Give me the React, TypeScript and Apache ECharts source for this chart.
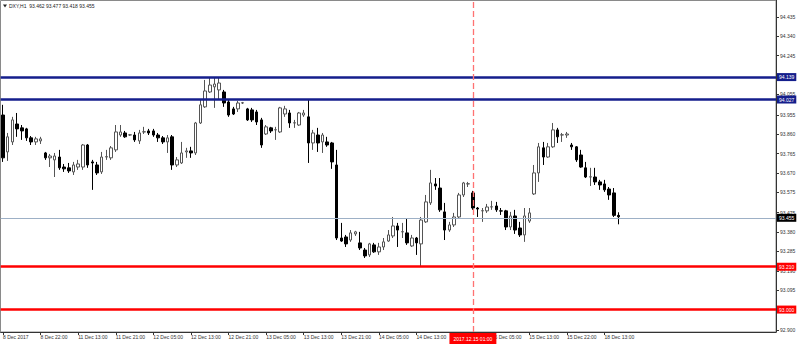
import React, { useEffect, useRef } from "react";
import * as echarts from "echarts";

// ---- data ----
const xTickLabels = [
  "8 Dec 2017", "8 Dec 22:00", "11 Dec 13:00", "11 Dec 21:00", "12 Dec 05:00",
  "12 Dec 13:00", "12 Dec 21:00", "13 Dec 05:00", "13 Dec 13:00", "13 Dec 21:00",
  "14 Dec 05:00", "14 Dec 13:00", "14 Dec 21:00", "15 Dec 05:00", "15 Dec 13:00",
  "15 Dec 22:00", "18 Dec 13:00",
];
// tick labels that the reference hides under its price / time boxes
const hiddenXLabels = ["14 Dec 21:00"];
const barsPerTick = 8;
const totalSlots = 165;

const yTickLabels = [
  "94.435", "94.340", "94.245", "94.150", "94.055", "93.955", "93.860", "93.765",
  "93.670", "93.575", "93.475", "93.380", "93.285", "93.190", "93.095", "93.000", "92.900",
];
const hiddenYLabels = ["94.150", "93.000"];

const opens = [
  93.954, 93.773, 93.822, 93.910, 93.891, 93.886, 93.842, 93.822, 93.827, 93.768,
  93.744, 93.734, 93.748, 93.699, 93.695, 93.675, 93.699, 93.699, 93.807, 93.724,
  93.709, 93.675, 93.748, 93.744, 93.783, 93.856, 93.866, 93.856, 93.856, 93.827,
  93.871, 93.876, 93.876, 93.856, 93.842, 93.822, 93.847, 93.709, 93.719, 93.773,
  93.778, 93.768, 93.915, 93.994, 94.067, 94.092, 94.077, 94.067, 94.018, 93.984,
  93.984, 94.013, 93.984, 93.979, 93.969, 93.930, 93.861, 93.891, 93.881, 93.871,
  93.959, 93.964, 93.915, 93.905, 93.954, 93.945, 93.817, 93.856, 93.822, 93.822,
  93.817, 93.709, 93.351, 93.356, 93.341, 93.371, 93.327, 93.292, 93.268, 93.317,
  93.283, 93.307, 93.336, 93.361, 93.410, 93.381, 93.376, 93.312, 93.351, 93.322,
  93.430, 93.523, 93.616, 93.596, 93.479, 93.390, 93.415, 93.454, 93.562, 93.616,
  93.572, 93.498, 93.484, 93.484, 93.503, 93.508, 93.484, 93.484, 93.405, 93.459,
  93.400, 93.366, 93.434, 93.567, 93.670, 93.793, 93.748, 93.798, 93.881, 93.856,
  93.856, 93.807, 93.798, 93.758, 93.695, 93.650, 93.650, 93.626, 93.616, 93.591,
  93.572, 93.462,
];
const closes = [
  93.744, 93.847, 93.930, 93.886, 93.876, 93.842, 93.822, 93.837, 93.837, 93.744,
  93.753, 93.753, 93.695, 93.690, 93.680, 93.709, 93.714, 93.807, 93.709, 93.719,
  93.670, 93.748, 93.750, 93.793, 93.871, 93.871, 93.847, 93.857, 93.832, 93.866,
  93.872, 93.866, 93.856, 93.842, 93.822, 93.842, 93.709, 93.734, 93.768, 93.778,
  93.768, 93.915, 94.004, 94.072, 94.101, 94.106, 94.111, 94.013, 93.954, 93.959,
  94.013, 94.014, 93.930, 93.930, 93.920, 93.807, 93.896, 93.876, 93.882, 93.989,
  93.984, 93.915, 93.916, 93.964, 93.964, 93.817, 93.866, 93.817, 93.856, 93.807,
  93.724, 93.351, 93.336, 93.322, 93.376, 93.381, 93.302, 93.263, 93.322, 93.283,
  93.307, 93.332, 93.366, 93.410, 93.390, 93.382, 93.327, 93.351, 93.327, 93.439,
  93.528, 93.621, 93.606, 93.489, 93.390, 93.415, 93.454, 93.562, 93.621, 93.617,
  93.498, 93.493, 93.485, 93.503, 93.504, 93.489, 93.483, 93.405, 93.459, 93.390,
  93.366, 93.459, 93.474, 93.670, 93.798, 93.748, 93.798, 93.881, 93.847, 93.857,
  93.861, 93.798, 93.734, 93.699, 93.650, 93.651, 93.626, 93.611, 93.587, 93.562,
  93.462, 93.455,
];
const lows = [
  93.724, 93.729, 93.807, 93.847, 93.832, 93.827, 93.807, 93.807, 93.812, 93.734,
  93.699, 93.650, 93.685, 93.675, 93.670, 93.660, 93.685, 93.685, 93.695, 93.587,
  93.660, 93.665, 93.734, 93.734, 93.773, 93.847, 93.842, 93.851, 93.822, 93.812,
  93.861, 93.856, 93.847, 93.822, 93.812, 93.768, 93.685, 93.699, 93.714, 93.744,
  93.744, 93.758, 93.910, 93.989, 94.062, 93.989, 94.028, 93.994, 93.945, 93.954,
  93.969, 94.008, 93.925, 93.920, 93.905, 93.793, 93.856, 93.866, 93.832, 93.866,
  93.945, 93.891, 93.891, 93.901, 93.945, 93.719, 93.783, 93.773, 93.768, 93.798,
  93.690, 93.341, 93.332, 93.307, 93.332, 93.361, 93.292, 93.253, 93.258, 93.278,
  93.268, 93.292, 93.332, 93.351, 93.307, 93.351, 93.317, 93.307, 93.268, 93.212,
  93.425, 93.513, 93.587, 93.479, 93.341, 93.381, 93.405, 93.449, 93.552, 93.601,
  93.489, 93.454, 93.430, 93.474, 93.489, 93.479, 93.464, 93.390, 93.390, 93.371,
  93.356, 93.332, 93.425, 93.562, 93.626, 93.709, 93.744, 93.793, 93.817, 93.822,
  93.842, 93.783, 93.724, 93.695, 93.645, 93.606, 93.611, 93.587, 93.577, 93.538,
  93.454, 93.418,
];
const highs = [
  94.004, 93.866, 93.945, 93.964, 93.905, 93.891, 93.851, 93.847, 93.847, 93.773,
  93.763, 93.768, 93.783, 93.714, 93.719, 93.724, 93.734, 93.812, 93.812, 93.734,
  93.724, 93.773, 93.783, 93.802, 93.905, 93.905, 93.876, 93.861, 93.871, 93.881,
  93.896, 93.886, 93.886, 93.866, 93.851, 93.856, 93.856, 93.748, 93.822, 93.793,
  93.798, 93.920, 94.028, 94.126, 94.136, 94.136, 94.136, 94.077, 94.028, 93.994,
  94.023, 94.018, 93.989, 93.989, 93.979, 93.940, 93.905, 93.896, 93.896, 93.994,
  93.999, 93.979, 93.930, 93.969, 93.979, 94.028, 93.881, 93.891, 93.866, 93.847,
  93.822, 93.783, 93.425, 93.366, 93.390, 93.386, 93.381, 93.302, 93.327, 93.327,
  93.327, 93.351, 93.390, 93.454, 93.425, 93.425, 93.444, 93.366, 93.356, 93.454,
  93.562, 93.685, 93.645, 93.645, 93.523, 93.430, 93.474, 93.572, 93.626, 93.626,
  93.582, 93.503, 93.498, 93.518, 93.533, 93.528, 93.498, 93.489, 93.479, 93.489,
  93.430, 93.498, 93.498, 93.709, 93.817, 93.822, 93.817, 93.915, 93.891, 93.866,
  93.871, 93.817, 93.802, 93.783, 93.724, 93.695, 93.695, 93.636, 93.636, 93.601,
  93.596, 93.477,
];

const resistanceLevels = [94.139, 94.027];
const supportLevels = [93.21, 93.0];
const bidLevel = 93.455;
const markedBarIndex = 100;
const markedBarLabel = "2017.12.15 01:00";
const titleText = "DXY,H1  93.462 93.477 93.418 93.455";

const FONT = "Liberation Sans, Arial, sans-serif";
const FS = 5;

export default function App() {
  const ref = useRef<HTMLDivElement>(null);

  useEffect(() => {
    if (!ref.current) return;
    const chart = echarts.init(ref.current, undefined, { renderer: "svg" });

    const categories = Array.from({ length: totalSlots }, (_, i) => String(i));
    const candles = opens.map((o, i) => [o, closes[i], lows[i], highs[i]]);
    const showTick = (index: number) =>
      index % barsPerTick === 0 && index / barsPerTick < xTickLabels.length;
    const yTickValues = yTickLabels.map(Number);
    const yLabelValues = yTickLabels
      .filter((t) => !hiddenYLabels.includes(t))
      .map(Number);

    const levelLabel = (bg: string) => ({
      show: true,
      position: "end",
      distance: 1,
      color: "#fff",
      backgroundColor: bg,
      padding: [1, 2, 1, 2],
      fontSize: FS,
      fontFamily: FONT,
      lineHeight: 6,
    });

    const markData: any[] = [
      ...resistanceLevels.map((v) => ({
        yAxis: v,
        lineStyle: { color: "#141e8c", width: 2.5, type: "solid" },
        label: { ...levelLabel("#141e8c"), formatter: v.toFixed(3) },
      })),
      ...supportLevels.map((v) => ({
        yAxis: v,
        lineStyle: { color: "#ff0000", width: 2.5, type: "solid" },
        label: { ...levelLabel("#ff0000"), formatter: v.toFixed(3) },
      })),
      {
        yAxis: bidLevel,
        lineStyle: { color: "#9db0c6", width: 1, type: "solid" },
        label: { ...levelLabel("#000000"), formatter: bidLevel.toFixed(3) },
      },
    ];

    chart.setOption({
      animation: false,
      backgroundColor: "#ffffff",
      grid: { left: 0, right: 24, top: 0, bottom: 12, containLabel: false },
      xAxis: {
        type: "category",
        data: categories,
        boundaryGap: true,
        axisLine: { show: true, lineStyle: { color: "#333", width: 1 } },
        axisTick: {
          show: true,
          alignWithLabel: true,
          interval: (index: number) => showTick(index),
          length: 3,
          lineStyle: { color: "#333" },
        },
        axisLabel: {
          interval: (index: number) => showTick(index),
          formatter: (_v: string, index: number) => {
            if (!showTick(index)) return "";
            const t = xTickLabels[index / barsPerTick];
            return hiddenXLabels.includes(t) ? "" : t;
          },
          align: "left",
          margin: 2,
          fontSize: FS,
          fontFamily: FONT,
          color: "#333",
        },
        splitLine: { show: false },
      },
      yAxis: {
        type: "value",
        position: "right",
        min: 92.89,
        max: 94.518,
        scale: true,
        axisLine: { show: true, lineStyle: { color: "#333", width: 1 } },
        axisTick: {
          show: true,
          length: 3,
          customValues: yTickValues,
          lineStyle: { color: "#333" },
        },
        axisLabel: {
          customValues: yLabelValues,
          formatter: (v: number) => v.toFixed(3),
          margin: 4,
          fontSize: FS,
          fontFamily: FONT,
          color: "#333",
        },
        splitLine: { show: false },
      },
      graphic: [
        {
          type: "rect",
          shape: { x: 0.5, y: 0.5, width: 775.5, height: 331.5 },
          style: { fill: "none", stroke: "#8a8a8a", lineWidth: 1 },
          silent: true,
          z: -1,
        },
        {
          type: "polygon",
          shape: { points: [[3, 4.5], [7, 4.5], [5, 7.5]] },
          style: { fill: "#222" },
          silent: true,
        },
        {
          type: "text",
          x: 9,
          y: 6,
          style: {
            text: titleText,
            fontSize: FS,
            fontFamily: FONT,
            fill: "#222",
            verticalAlign: "middle",
          },
          silent: true,
        },
      ],
      series: [
        {
          type: "candlestick",
          data: candles,
          barWidth: 3,
          itemStyle: {
            color: "#ffffff",
            color0: "#000000",
            borderColor: "#555555",
            borderColor0: "#000000",
            borderWidth: 1,
          },
          markLine: {
            silent: true,
            symbol: ["none", "none"],
            animation: false,
            data: markData,
          },
        },
        {
          type: "line",
          name: "marker",
          data: [],
          silent: true,
          color: "#ff7272",
          markLine: {
            silent: true,
            symbol: ["none", "none"],
            animation: false,
            lineStyle: { color: "#ff7272", width: 1.3, type: [6, 3], opacity: 1 },
            label: {
              show: true,
              position: "start",
              distance: 1,
              formatter: markedBarLabel,
              color: "#fff",
              backgroundColor: "#ff0000",
              padding: [3, 4, 2, 4],
              fontSize: FS,
              fontFamily: FONT,
              lineHeight: 6,
            },
            data: [{ xAxis: markedBarIndex }],
          },
        },
      ],
    });

    return () => chart.dispose();
  }, []);

  return (
    <div
      ref={ref}
      style={{ position: "absolute", left: 0, top: 0, width: 800, height: 344 }}
    />
  );
}
